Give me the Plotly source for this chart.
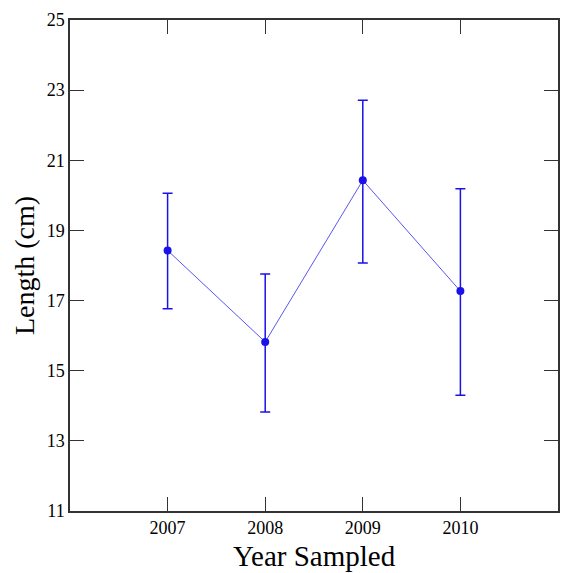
import plotly.graph_objects as go

years = [2007, 2008, 2009, 2010]
mean_length = [18.43, 15.82, 20.43, 17.27]
upper = [20.06, 17.76, 22.71, 20.19]
lower = [16.77, 13.82, 18.07, 14.30]

err_plus = [u - m for u, m in zip(upper, mean_length)]
err_minus = [m - l for m, l in zip(mean_length, lower)]

blue = "#1a12e8"

fig = go.Figure()
fig.add_trace(go.Scatter(
    x=years, y=mean_length, mode="lines+markers",
    line=dict(color="#5b55f0", width=1),
    marker=dict(color=blue, size=8),
    error_y=dict(type="data", symmetric=False, array=err_plus, arrayminus=err_minus,
                 color=blue, thickness=1.5, width=5),
    showlegend=False,
))

fig.update_layout(
    width=561, height=573,
    margin=dict(l=70, r=1, t=20, b=62),
    paper_bgcolor="white", plot_bgcolor="white",
    font=dict(family="Liberation Serif", color="black"),
    annotations=[dict(
        text="Year Sampled", xref="paper", yref="paper", x=0.5, y=0,
        xanchor="center", yanchor="top", yshift=-27, showarrow=False,
        font=dict(size=29, family="Liberation Serif", color="black"),
    )],
)
fig.update_xaxes(
    range=[2006, 2011], tickvals=years, ticktext=[str(y) for y in years],
    ticks="inside", ticklen=14, tickcolor="#333", tickwidth=1,
    showline=True, linecolor="#333", linewidth=1.5, mirror="ticks",
    showgrid=False, zeroline=False,
    tickfont=dict(size=18, family="Liberation Serif"),
)
fig.update_yaxes(
    range=[11, 25], tickvals=[11, 13, 15, 17, 19, 21, 23, 25],
    ticks="inside", ticklen=14, tickcolor="#333", tickwidth=1,
    showline=True, linecolor="#333", linewidth=1.5, mirror="ticks",
    showgrid=False, zeroline=False,
    tickfont=dict(size=18, family="Liberation Serif"),
    title=dict(text="Length (cm)", font=dict(size=28, family="Liberation Serif"), standoff=4),
)

fig.write_html("out.html", config={"displayModeBar": False},
               post_script="document.body.style.margin='0';")
